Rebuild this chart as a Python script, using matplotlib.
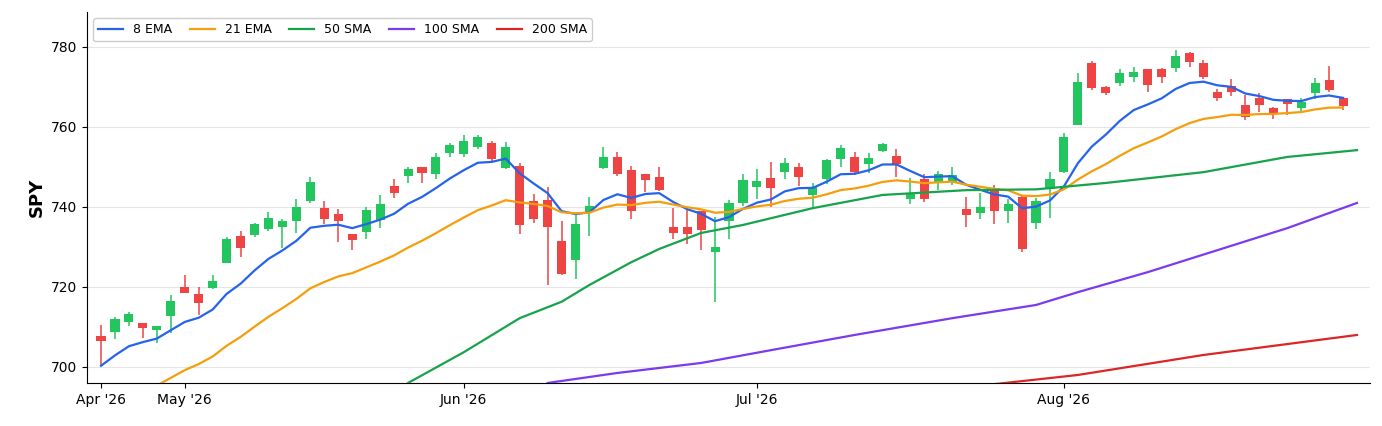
import matplotlib
matplotlib.use("Agg")
import matplotlib.pyplot as plt
import numpy as np

# OHLC, one row per trading day
opens = [707.8,708.8,711.2,711.0,709.2,712.7,720.0,718.2,719.7,726.0,732.7,733.0,734.5,735.0,736.5,741.5,
         739.7,738.2,733.2,733.7,736.7,745.2,747.7,750.0,748.2,753.5,753.2,755.0,756.0,749.7,750.2,741.5,
         741.7,731.5,726.7,738.7,749.7,752.5,749.2,748.2,747.5,735.0,735.0,739.0,728.7,736.5,741.0,745.0,
         747.2,748.7,750.0,743.0,747.0,752.0,752.5,750.7,754.0,752.7,742.0,747.0,746.2,746.2,739.5,738.5,
         744.7,739.0,742.5,736.0,744.5,748.7,760.5,776.0,770.0,771.0,772.5,774.5,774.5,774.7,778.5,776.0,
         768.7,770.2,765.5,767.2,764.7,767.0,764.7,768.5,771.7,767.2]
closes = [706.5,712.0,713.2,709.8,710.2,716.5,718.5,716.0,721.5,732.0,729.7,735.7,737.2,736.5,740.0,746.2,
          737.0,736.5,731.7,739.2,740.7,743.5,749.5,748.5,752.5,755.5,756.5,757.5,752.0,755.0,735.5,737.0,
          735.0,723.2,735.7,740.2,752.5,748.2,739.0,746.7,744.2,733.5,733.2,734.2,730.0,741.0,746.7,746.5,
          744.7,751.0,747.5,745.0,751.7,754.7,748.7,752.2,755.7,750.7,743.2,742.0,748.2,748.0,738.0,740.0,
          739.0,740.7,729.5,741.5,747.0,757.5,771.2,769.7,768.5,773.5,773.7,770.5,772.5,777.7,776.2,772.5,
          767.2,768.7,762.5,765.5,763.5,765.7,766.2,771.0,769.2,765.2]
highs = [710.5,712.5,713.8,711.0,710.2,718.0,723.0,720.0,723.0,732.5,734.0,736.0,738.7,737.0,742.0,747.5,
         741.5,739.5,733.2,740.0,743.0,747.0,750.0,750.0,753.5,756.0,758.0,758.0,756.5,756.2,751.0,743.2,
         745.0,736.5,738.0,742.5,755.0,753.7,750.2,748.2,750.0,739.7,739.7,739.0,737.5,741.7,748.2,749.5,
         751.2,752.2,751.0,746.0,752.0,755.5,753.7,753.5,756.0,754.5,747.2,748.2,749.0,750.0,742.5,743.5,
         745.5,742.0,743.0,742.2,748.7,758.5,773.5,776.5,770.2,774.5,775.0,774.5,774.7,779.2,778.7,776.7,
         769.5,772.0,768.0,768.5,765.0,767.0,767.2,772.2,775.2,767.5]
lows = [700.5,707.0,710.3,707.3,706.0,708.5,718.5,713.0,719.5,726.0,727.5,732.5,734.0,729.7,733.5,741.0,
        735.7,731.2,729.2,732.0,734.7,742.2,746.0,746.0,747.0,752.5,752.5,754.5,751.2,749.5,733.2,736.0,
        720.5,723.0,722.0,732.7,749.5,747.7,737.0,743.7,744.0,732.0,730.7,729.2,716.2,732.0,740.2,742.0,
        740.0,747.0,745.2,739.5,745.7,750.0,748.0,748.5,753.8,747.5,740.7,741.2,744.2,745.5,735.0,737.0,
        735.7,736.0,728.7,734.5,737.2,748.5,760.5,769.2,768.0,770.2,771.2,768.7,771.0,773.7,775.0,772.0,
        766.5,767.7,761.7,763.7,762.0,763.0,763.7,767.0,768.7,764.2]

month_ticks = [0, 6, 26, 47, 69]
month_labels = ["Apr '26", "May '26", "Jun '26", "Jul '26", "Aug '26"]

ema8_start = 700.3
ema21_start = 688.0
sma50_idx = [22, 26, 30, 33, 35, 38, 40, 43, 46, 51, 56, 62, 67, 72, 79, 85, 90]
sma50_val = [696, 703.7, 712.2, 716.3, 720.5, 726.2, 729.5, 733.5, 735.5, 739.7, 743.0, 744.2, 744.4, 746,
             748.7, 752.5, 754.2]
sma100_idx = [32, 37, 43, 48, 54, 61, 67, 70, 75, 80, 85, 90]
sma100_val = [696, 698.5, 701, 704.2, 708, 712.2, 715.5, 718.7, 723.7, 729.2, 734.7, 741]
sma200_idx = [64, 70, 79, 90]
sma200_val = [695.7, 698, 703, 708]


def ema(values, span, start):
    a = 2.0 / (span + 1)
    out = [start]
    for v in values[1:]:
        out.append(out[-1] + a * (v - out[-1]))
    return out


n = len(closes)
x = np.arange(n)
up = "#22c55e"
down = "#ef4444"

fig, ax = plt.subplots(figsize=(13.82, 4.26), dpi=100)
fig.subplots_adjust(left=0.063, right=0.991, bottom=0.101, top=0.972)

for i in range(n):
    c = up if closes[i] >= opens[i] else down
    ax.vlines(x[i], lows[i], highs[i], color=c, lw=1.1, zorder=2)
    lo = min(opens[i], closes[i])
    h = max(abs(closes[i] - opens[i]), 0.3)
    ax.bar(x[i], h, bottom=lo, width=0.65, color=c, zorder=3)

ax.plot(x, ema(closes, 8, ema8_start), color="#2563eb", lw=1.6, label="8 EMA", zorder=4)
ax.plot(x, ema(closes, 21, ema21_start), color="#f59e0b", lw=1.6, label="21 EMA", zorder=4)
ax.plot(sma50_idx, sma50_val, color="#16a34a", lw=1.6, label="50 SMA", zorder=4)
ax.plot(sma100_idx, sma100_val, color="#7c3aed", lw=1.6, label="100 SMA", zorder=4)
ax.plot(sma200_idx, sma200_val, color="#dc2626", lw=1.6, label="200 SMA", zorder=4)

ax.set_xlim(-1, 90.9)
ax.set_ylim(696, 788.75)
ax.set_yticks([700, 720, 740, 760, 780])
ax.set_xticks(month_ticks)
ax.set_xticklabels(month_labels)
ax.tick_params(labelsize=10)
ax.grid(axis="y", color="#e5e5e5", lw=0.8)
ax.set_axisbelow(True)
ax.spines["top"].set_visible(False)
ax.spines["right"].set_visible(False)
ax.set_ylabel("SPY", fontsize=13, fontweight="bold")
ax.legend(loc="upper left", ncol=5, fontsize=9, framealpha=1, handlelength=2, columnspacing=1.4)

fig.savefig("out.png", dpi=100)
